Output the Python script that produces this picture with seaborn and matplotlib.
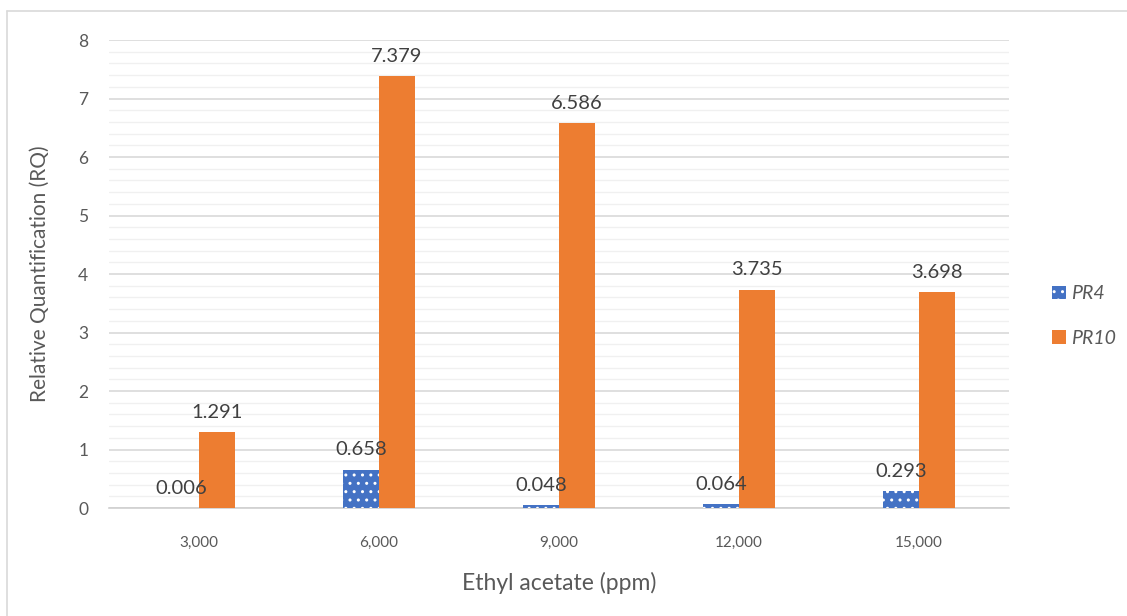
import matplotlib
matplotlib.use("Agg")
import matplotlib.pyplot as plt
from matplotlib.lines import Line2D
from matplotlib.patches import Patch
from matplotlib.ticker import MultipleLocator
import pandas as pd
import seaborn as sns

# Relative expression of PR genes at each ethyl acetate concentration
concentrations = ["3,000", "6,000", "9,000", "12,000", "15,000"]
pr4_values = [0.006, 0.658, 0.048, 0.064, 0.293]
pr10_values = [1.291, 7.379, 6.586, 3.735, 3.698]
genes = ["PR4", "PR10"]
y_ticks = [0, 1, 2, 3, 4, 5, 6, 7, 8]

df = pd.DataFrame({
    "Concentration": concentrations * 2,
    "RQ": pr4_values + pr10_values,
    "Gene": [genes[0]] * len(concentrations) + [genes[1]] * len(concentrations),
})

sns.set_theme(style="white")
plt.rcParams["font.family"] = ["Lato", "DejaVu Sans"]
plt.rcParams["hatch.linewidth"] = 1.0
plt.rcParams["hatch.color"] = "white"

colors = {"PR4": "#4472C4", "PR10": "#ED7D31"}

fig = plt.figure(figsize=(11.27, 6.16), dpi=100)
ax = fig.add_axes([0.0967, 0.1753, 0.7986, 0.7597])

sns.barplot(data=df, x="Concentration", y="RQ", hue="Gene", order=concentrations,
            hue_order=genes, palette=colors, width=0.4, dodge=True,
            saturation=1, errorbar=None, legend=False, ax=ax, zorder=3)

# dotted fill for the PR4 bars
for bar in ax.containers[0]:
    bar.set_hatch("..")
    bar.set_edgecolor("white")
    bar.set_linewidth(0)
for bar in ax.containers[1]:
    bar.set_linewidth(0)

for container in ax.containers:
    vals = [b.get_height() for b in container]
    ax.bar_label(container, labels=[f"{v:.3f}" for v in vals], padding=8,
                 fontsize=14.5, color="#404040", zorder=5)

ax.set_ylim(0, 8)
ax.set_xlim(-0.5, 4.5)
ax.set_yticks(y_ticks)
ax.yaxis.set_minor_locator(MultipleLocator(0.2))
ax.grid(axis="y", which="major", color="#D9D9D9", linewidth=1.2, zorder=0)
ax.grid(axis="y", which="minor", color="#F0F0F0", linewidth=1.0, zorder=0)
ax.set_axisbelow(True)
for side in ["top", "right", "left"]:
    ax.spines[side].set_visible(False)
ax.spines["bottom"].set_color("#D0D0D0")
ax.spines["bottom"].set_linewidth(1.2)

ax.tick_params(axis="y", which="both", length=0, labelsize=12.5, labelcolor="#595959", pad=15)
ax.tick_params(axis="x", length=0, labelsize=11, labelcolor="#595959", pad=20)

ax.set_xlabel("Ethyl acetate (ppm)", fontsize=16.5, color="#595959", labelpad=16)
ax.set_ylabel("Relative Quantification (RQ)", fontsize=15, color="#595959", labelpad=20)

handles = [Patch(facecolor=colors["PR4"], hatch="..", edgecolor="white", linewidth=0),
           Patch(facecolor=colors["PR10"], linewidth=0)]
leg = fig.legend(handles, genes, loc="center left", bbox_to_anchor=(0.918, 0.487),
                 frameon=False, handlelength=0.7, handleheight=0.7,
                 handletextpad=0.3, labelspacing=1.4, prop={"size": 14, "style": "italic"})
for t in leg.get_texts():
    t.set_color("#595959")

# outer chart frame
fig.add_artist(Line2D([0.0062, 0.0062], [0.0, 0.982], color="#D9D9D9", linewidth=1.2,
                      transform=fig.transFigure))
fig.add_artist(Line2D([0.0062, 1.0], [0.982, 0.982], color="#D9D9D9", linewidth=1.2,
                      transform=fig.transFigure))

fig.savefig("out.png", dpi=100, facecolor="white")
